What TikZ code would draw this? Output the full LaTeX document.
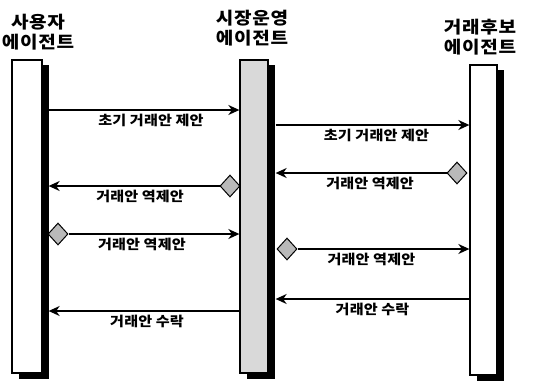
\documentclass[tikz,border=0pt]{standalone}
\usepackage{fontspec}
\newfontfamily\kfont{Noto Sans CJK KR}[FakeStretch=1.12, LetterSpace=1]
\newfontfamily\ktitle{Noto Sans CJK KR}[FakeStretch=1.12, LetterSpace=4]
\usetikzlibrary{shapes.geometric,arrows.meta}
\begin{document}
\begin{tikzpicture}[x=1pt,y=-1pt,
  lifebox/.style={draw, line width=1.3pt, inner sep=0pt},
  shade/.style={fill=black},
  title/.style={font=\ktitle\bfseries\fontsize{17}{20.5}\selectfont, align=center},
  msg/.style={line width=1.4pt, -{Stealth[length=11pt,width=10pt,inset=3.5pt]}},
  lbl/.style={font=\kfont\bfseries\fontsize{13.5}{15}\selectfont, inner sep=1pt},
  gem/.style={diamond, draw, line width=1pt, fill=gray!55, inner sep=0pt,
    minimum width=20pt, minimum height=22pt}]
\useasboundingbox (0,0) rectangle (533,381);
% lifelines
\node[lifebox, fill=white, minimum width=30pt, minimum height=313pt] (L) at (27,216.5) {};
\node[lifebox, fill=gray!30, minimum width=28pt, minimum height=313pt] (M) at (254,216.5) {};
\node[lifebox, fill=white, minimum width=27pt, minimum height=310pt] (R) at (483.5,220) {};
\foreach \b in {L,M,R}{
  \fill[shade] ([yshift=-6pt]\b.north east) rectangle ([xshift=6pt,yshift=-5pt]\b.south east);
  \fill[shade] ([xshift=8pt]\b.south west) rectangle ([xshift=6pt,yshift=-5pt]\b.south east);
}
% titles
\node[title] (tL) at (38,32) {사용자\\에이전트};
\node[title] (tM) at (252,28) {시장운영\\에이전트};
\node[title] (tR) at (480,37) {거래후보\\에이전트};
% named ends
\coordinate (Ls) at ([xshift=6pt]L.east);
\coordinate (Ms) at ([xshift=7pt]M.east);
% 1
\draw[msg] (Ls |- 0,110) -- node[lbl, below=2pt, xshift=7pt] {초기 거래안 제안} (M.west |- 0,110);
% 2
\draw[msg] (Ms |- 0,125) -- node[lbl, below=2pt, xshift=4pt] {초기 거래안 제안} (R.west |- 0,125);
% 3
\node[gem] (d3) at (457,173) {};
\draw[msg] (d3.west) -- node[lbl, below=2pt, xshift=9pt] {거래안 역제안} (Ms |- d3.west);
% 4
\node[gem] (d4) at (230,186) {};
\draw[msg] (d4.west) -- node[lbl, below=2pt, xshift=6pt] {거래안 역제안} (Ls |- d4.west);
% 5
\node[gem] (d5) at (58,234) {};
\draw[msg] (d5.east) -- node[lbl, below=2pt, xshift=-12pt] {거래안 역제안} (M.west |- d5.east);
% 6
\node[gem] (d6) at (287,249) {};
\draw[msg] (d6.east) -- node[lbl, below=2pt, xshift=-12pt] {거래안 역제안} (R.west |- d6.east);
% 7
\draw[msg] (R.west |- 0,299) -- node[lbl, below=2pt] {거래안 수락} (Ms |- 0,299);
% 8
\draw[msg] (M.west |- 0,311) -- node[lbl, below=2pt, xshift=3pt] {거래안 수락} (Ls |- 0,311);
\end{tikzpicture}
\end{document}
